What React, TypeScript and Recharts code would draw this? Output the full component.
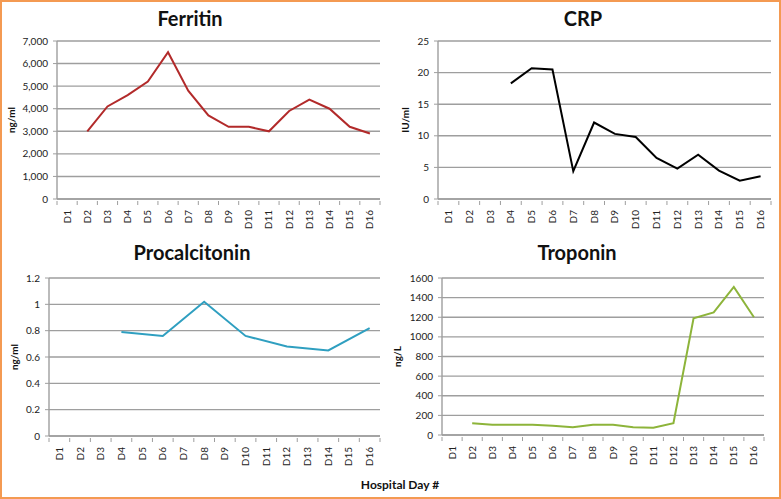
import React from 'react';
import { LineChart, Line, XAxis, YAxis, CartesianGrid } from 'recharts';

const days = ['D1', 'D2', 'D3', 'D4', 'D5', 'D6', 'D7', 'D8', 'D9', 'D10', 'D11', 'D12', 'D13', 'D14', 'D15', 'D16'];

const ferritin = [null, 3000, 4100, 4600, 5200, 6500, 4800, 3700, 3200, 3200, 3000, 3900, 4400, 4000, 3200, 2900];
const crp = [null, null, null, 18.3, 20.7, 20.5, 4.4, 12.1, 10.3, 9.8, 6.5, 4.8, 7.0, 4.5, 2.9, 3.6];
const procalcitonin = [null, null, null, 0.79, null, 0.76, null, 1.02, null, 0.76, null, 0.68, null, 0.65, null, 0.82];
const troponin = [null, 120, 105, 105, 105, 95, 80, 105, 105, 80, 75, 120, 1190, 1250, 1510, 1200];

const ferritinTicks = [0, 1000, 2000, 3000, 4000, 5000, 6000, 7000];
const crpTicks = [0, 5, 10, 15, 20, 25];
const pctTicks = [0, 0.2, 0.4, 0.6, 0.8, 1, 1.2];
const tropTicks = [0, 200, 400, 600, 800, 1000, 1200, 1400, 1600];

const FONT = 'Lato, "Open Sans", sans-serif';
const GRID = '#9e9e9e';

const DayTick = (props: any) => {
  const { x, y, payload, bw, last } = props;
  return (
    <g transform={`translate(${x},${y})`}>
      <line x1={-bw / 2} y1={-6} x2={-bw / 2} y2={-2} stroke={GRID} />
      {last && <line x1={bw / 2} y1={-6} x2={bw / 2} y2={-2} stroke={GRID} />}
      <text transform="rotate(-90)" x={-3} y={0} dy={3.5} textAnchor="end" fontSize={10} fill="#222" fontFamily={FONT}>
        {payload.value}
      </text>
    </g>
  );
};

type PanelProps = {
  left: number;
  top: number;
  width: number;
  height: number;
  values: (number | null)[];
  ticks: number[];
  color: string;
  unit: string;
  unitOffset: number;
  axisWidth: number;
  right: number;
  plotTop: number;
  plotBottom: number;
  fmt: (v: number) => string;
  connect?: boolean;
};

function Panel(p: PanelProps) {
  const data = days.map((d, i) => ({ day: d, v: p.values[i] }));
  const plotW = p.width - p.axisWidth - p.right;
  const bw = plotW / days.length;
  const xh = 40;
  return (
    <div style={{ position: 'absolute', left: p.left, top: p.top }}>
      <LineChart
        width={p.width}
        height={p.height}
        data={data}
        margin={{ top: p.plotTop, right: p.right, left: 0, bottom: p.height - p.plotBottom - xh }}
      >
        <CartesianGrid horizontal vertical={false} stroke={GRID} strokeWidth={1.4} />
        <XAxis
          dataKey="day"
          interval={0}
          height={xh}
          padding={{ left: bw / 2, right: bw / 2 }}
          axisLine={{ stroke: GRID, strokeWidth: 1.4 }}
          tickLine={false}
          tick={(tp: any) => <DayTick {...tp} bw={bw} last={tp.index === days.length - 1} />}
        />
        <YAxis
          width={p.axisWidth}
          domain={[p.ticks[0], p.ticks[p.ticks.length - 1]]}
          ticks={p.ticks}
          interval={0}
          tickFormatter={p.fmt}
          tick={{ fontSize: 10, fill: '#222', fontFamily: FONT }}
          tickSize={4}
          tickMargin={5}
          axisLine={{ stroke: GRID, strokeWidth: 1.4 }}
          tickLine={{ stroke: GRID }}
          label={{
            value: p.unit,
            angle: -90,
            position: 'insideLeft',
            offset: p.unitOffset,
            style: { textAnchor: 'middle', fontSize: 10, fontWeight: 700, fill: '#111', fontFamily: FONT },
          }}
        />
        <Line
          type="linear"
          dataKey="v"
          stroke={p.color}
          strokeWidth={2}
          dot={false}
          connectNulls={p.connect}
          isAnimationActive={false}
        />
      </LineChart>
    </div>
  );
}

const titleStyle = (cx: number, cy: number): React.CSSProperties => ({
  position: 'absolute',
  left: cx - 100,
  top: cy - 13,
  width: 200,
  textAlign: 'center',
  fontSize: 20,
  fontWeight: 700,
  fontFamily: FONT,
  color: '#111',
  lineHeight: '26px',
});

export default function App() {
  return (
    <div
      style={{
        position: 'absolute',
        left: 0,
        top: 0,
        width: 781,
        height: 499,
        boxSizing: 'border-box',
        border: '2px solid #f49a52',
        background: '#fff',
        overflow: 'hidden',
      }}
    >
      <div style={{ position: 'absolute', left: -2, top: -2, width: 781, height: 499 }}>
        <div style={titleStyle(190, 18)}>Ferritin</div>
        <div style={titleStyle(583, 18)}>CRP</div>
        <div style={titleStyle(192, 252)}>Procalcitonin</div>
        <div style={titleStyle(577, 252)}>Troponin</div>

        <Panel left={0} top={0} width={390} height={245} values={ferritin} ticks={ferritinTicks} color="#b22a2a"
          unit="ng/ml" unitOffset={11} axisWidth={57} right={10} plotTop={41} plotBottom={199}
          fmt={(v) => v.toLocaleString('en-US')} />
        <Panel left={390} top={0} width={391} height={245} values={crp} ticks={crpTicks} color="#000000"
          unit="IU/ml" unitOffset={15} axisWidth={48} right={10} plotTop={41} plotBottom={199}
          fmt={(v) => String(v)} />
        <Panel left={0} top={250} width={390} height={230} values={procalcitonin} ticks={pctTicks} color="#2f9fc0"
          unit="ng/ml" unitOffset={14} axisWidth={49} right={10} plotTop={28} plotBottom={186}
          fmt={(v) => String(Math.round(v * 10) / 10)} connect />
        <Panel left={390} top={250} width={391} height={230} values={troponin} ticks={tropTicks} color="#8db43a"
          unit="ng/L" unitOffset={7} axisWidth={52} right={17} plotTop={28} plotBottom={185}
          fmt={(v) => String(v)} />

        <div style={{ position: 'absolute', left: 300, top: 477, width: 200, textAlign: 'center', fontSize: 12, fontWeight: 700, fontFamily: FONT, color: '#111' }}>
          Hospital Day #
        </div>
      </div>
    </div>
  );
}
